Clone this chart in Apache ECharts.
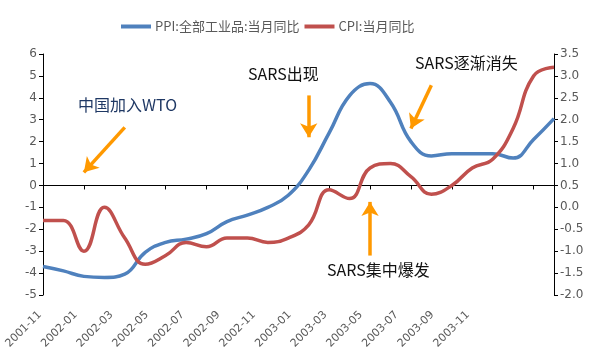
<!DOCTYPE html>
<html>
<head>
<meta charset="utf-8">
<script src="https://cdn.jsdelivr.net/npm/echarts@6/dist/echarts.min.js"></script>
<style>html,body{margin:0;padding:0;background:#fff;}#c{width:600px;height:360px;}</style>
</head>
<body>
<div id="c"></div>
<script>
var months = ['2001-11','2001-12','2002-01','2002-02','2002-03','2002-04','2002-05','2002-06','2002-07','2002-08','2002-09','2002-10','2002-11','2002-12','2003-01','2003-02','2003-03','2003-04','2003-05','2003-06','2003-07','2003-08','2003-09','2003-10','2003-11','2003-12'];
var tickLabels = ['2001-11','2002-01','2002-03','2002-05','2002-07','2002-09','2002-11','2003-01','2003-03','2003-05','2003-07','2003-09','2003-11'];
var ppi = [-3.7,-3.9,-4.15,-4.2,-4.05,-3.05,-2.6,-2.45,-2.2,-1.65,-1.35,-1.0,-0.45,0.7,2.4,4.1,4.65,3.8,2.0,1.35,1.45,1.45,1.45,1.25,2.1,3.05];
var cpi = [-0.3,-0.3,-1.0,0.0,-0.7,-1.3,-1.1,-0.8,-0.9,-0.7,-0.7,-0.8,-0.7,-0.4,0.4,0.2,0.9,1.0,0.7,0.3,0.5,0.9,1.1,1.8,3.0,3.2];
var seriesNames = ['PPI:全部工业品:当月同比','CPI:当月同比'];
// annotation arrows in data coordinates [categoryIndex, leftAxisValue]
var arrows = [
  [[4.1, 2.65],[2.1, 0.6]],
  [[12.72, 4.11],[13.12, 2.2]],
  [[19.28, 4.57],[18.45, 2.6]],
  [[15.95, -3.2],[15.95, -0.75]]
];
var notes = [
  {text:'中国加入WTO', x:78, y:107, color:'#1f3864'},
  {text:'SARS出现', x:248, y:76, color:'#111'},
  {text:'SARS逐渐消失', x:415, y:65, color:'#111'},
  {text:'SARS集中爆发', x:327, y:272, color:'#111'}
];

var chart = echarts.init(document.getElementById('c'), null, {renderer:'canvas'});
var axisColor = '#000';
var labelStyle = {color:'#595959', fontFamily:'DejaVu Sans', fontSize:11};
var option = {
  animation:false,
  backgroundColor:'#fff',
  legend:{
    left:116, top:15, itemWidth:30, itemHeight:4, itemGap:5, icon:'rect',
    textStyle:{color:'#595959', fontFamily:'Noto Sans CJK SC', fontSize:13, padding:[0,0,0,-1]},
    data:seriesNames
  },
  grid:[
    {left:43, right:46, top:54, bottom:65},
    {left:40, right:132, top:54, bottom:58}
  ],
  xAxis:[
    {type:'category', gridIndex:0, data:months, boundaryGap:false,
     axisLine:{onZero:true, lineStyle:{color:axisColor, width:1}},
     axisTick:{show:true, interval:1, length:4, lineStyle:{color:axisColor}},
     axisLabel:{show:false}, splitLine:{show:false}},
    {type:'category', gridIndex:1, data:tickLabels, boundaryGap:false,
     axisLine:{show:false}, axisTick:{show:false},
     axisLabel:Object.assign({rotate:45, interval:0, margin:11}, labelStyle)}
  ],
  yAxis:[
    {type:'value', gridIndex:0, min:-5, max:6, interval:1, position:'left',
     axisLine:{show:true, lineStyle:{color:axisColor}},
     axisTick:{show:true, length:4, lineStyle:{color:axisColor}},
     axisLabel:Object.assign({margin:6}, labelStyle, {fontSize:12}),
     splitLine:{show:false}},
    {type:'value', gridIndex:0, min:-2, max:3.5, interval:0.5, position:'right',
     axisLine:{show:true, lineStyle:{color:axisColor}},
     axisTick:{show:true, length:4, lineStyle:{color:axisColor}},
     axisLabel:Object.assign({margin:6, formatter:function(v){return v.toFixed(1);}}, labelStyle, {fontSize:12}),
     splitLine:{show:false}},
    {type:'value', gridIndex:1, show:false, min:0, max:1}
  ],
  series:[
    {name:seriesNames[0], type:'line', xAxisIndex:0, yAxisIndex:0, data:ppi, smooth:0.45, symbol:'none',
     lineStyle:{color:'#4F81BD', width:3.5}, itemStyle:{color:'#4F81BD'},
     markLine:{silent:true, symbol:['none','arrow'], symbolSize:[13,14], animation:false,
       label:{show:false},
       lineStyle:{color:'#FF9900', width:3.5, type:'solid'},
       data:arrows.map(function(a){return [{coord:a[0]},{coord:a[1]}];})}},
    {name:seriesNames[1], type:'line', xAxisIndex:0, yAxisIndex:1, data:cpi, smooth:0.45, symbol:'none',
     lineStyle:{color:'#C0504D', width:3.5}, itemStyle:{color:'#C0504D'}}
  ],
  graphic:notes.map(function(n){
    return {type:'text', left:n.x, top:n.y-10, z:100,
      style:{text:n.text, fill:n.color, font:'16px "Noto Sans CJK SC"'}};
  })
};
chart.setOption(option);
</script>
</body>
</html>
